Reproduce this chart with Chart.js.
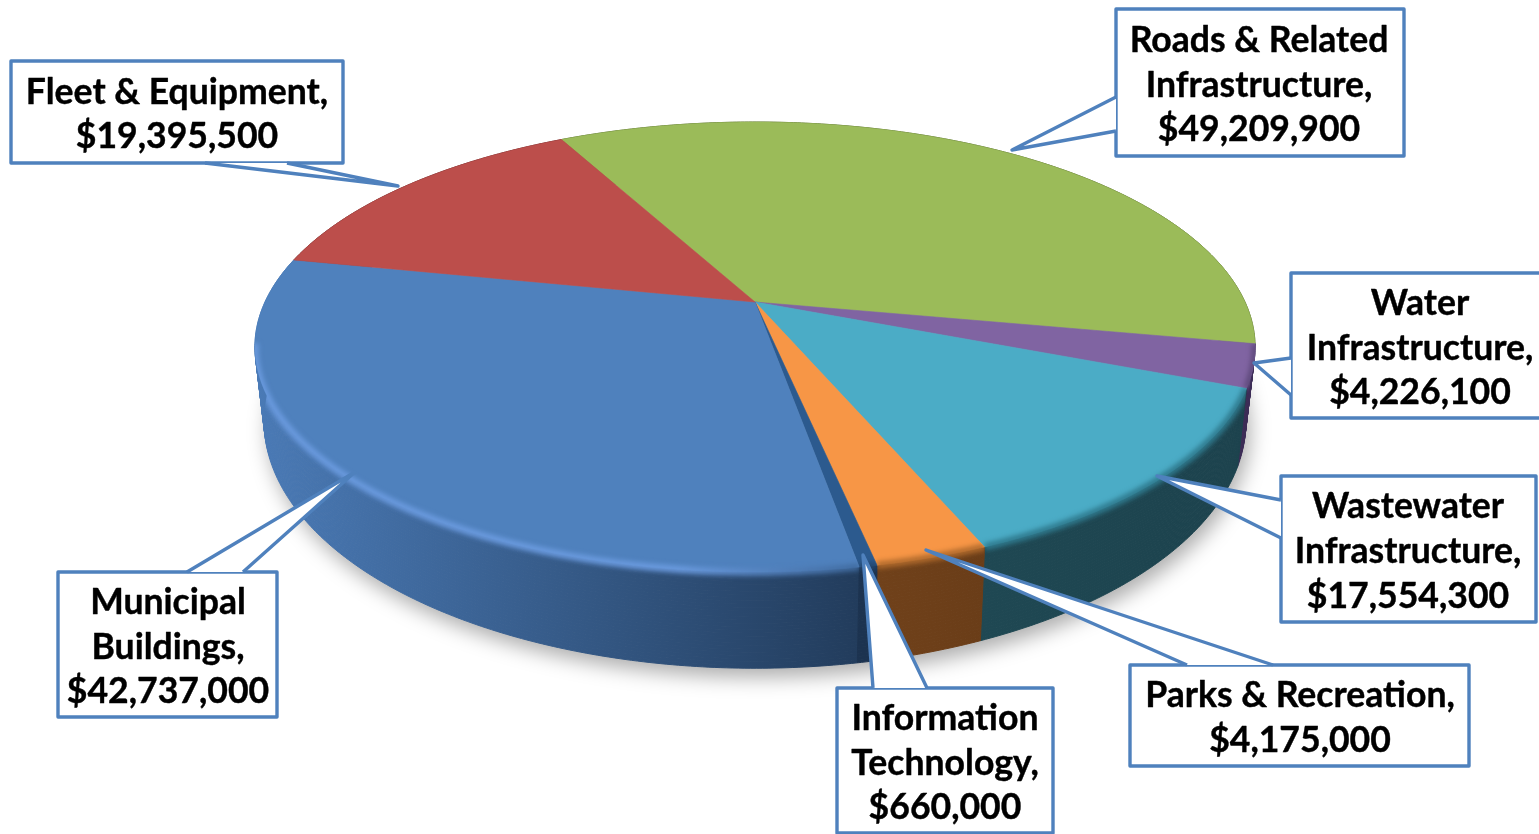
<!DOCTYPE html>
<html lang="en">
<head>
  <meta charset="UTF-8">
  <title>Capital budget by category</title>
  <script src="https://cdn.jsdelivr.net/npm/chart.js"></script>
  <style>
    html, body { margin: 0; padding: 0; background: #fff; overflow: hidden; }
    #pie { display: block; filter: blur(0.6px); }
  </style>
</head>
<body>
  <canvas id="pie" width="1539" height="834"></canvas>

  <script>
    // values, clockwise from the big green slice
    const categories = ['Roads & Related Infrastructure', 'Water Infrastructure', 'Wastewater Infrastructure',
      'Parks & Recreation', 'Information Technology', 'Municipal Buildings', 'Fleet & Equipment'];
    const amounts = [49209900, 4226100, 17554300, 4175000, 660000, 42737000, 19395500];
    const labelLines = [
      ['Roads & Related', 'Infrastructure,'],
      ['Water', 'Infrastructure,'],
      ['Wastewater', 'Infrastructure,'],
      ['Parks & Recreation,'],
      ['Information', 'Technology,'],
      ['Municipal', 'Buildings,'],
      ['Fleet & Equipment,']
    ];

    const topColors = ['#9bbb59', '#8064a2', '#4bacc6', '#f79646', '#2c5a8e', '#4f81bd', '#bc4e4b'];
    const wallLeft = ['#55682f', '#3c2c56', '#1f4853', '#70411a', '#1c3350', '#4a7ab6', '#6b2c2a'];
    const wallRight = ['#55682f', '#3c2c56', '#1c424d', '#6a3d18', '#1c3350', '#223c5c', '#6b2c2a'];
    const rimLeft = ['#7f9a48', '#5f4a7c', '#2f7a8e', '#b06a2c', '#24476f', '#6a9ade', '#bc4e4b'];
    const rimRight = ['#7f9a48', '#5f4a7c', '#2f7a8e', '#b06a2c', '#24476f', '#3f6a9e', '#bc4e4b'];

    // callout boxes: x, y, w, h, text centre, tail tip and the two tail base points
    const callouts = [
      { x: 1116, y: 9, w: 288, h: 147, cx: 1259, tip: [1012, 150], a: [1116, 97], b: [1116, 131] },
      { x: 1291, y: 273, w: 260, h: 145, cx: 1420, tip: [1254, 363], a: [1291, 358], b: [1291, 395] },
      { x: 1281, y: 476, w: 255, h: 146, cx: 1408, tip: [1157, 476], a: [1281, 500], b: [1281, 538] },
      { x: 1130, y: 665, w: 339, h: 101, cx: 1300, tip: [926, 550], a: [1273, 665], b: [1187, 665] },
      { x: 837, y: 688, w: 216, h: 145, cx: 945, tip: [863, 555], a: [873, 688], b: [927, 688] },
      { x: 58, y: 572, w: 219, h: 145, cx: 168, tip: [355, 472], a: [187, 572], b: [243, 572] },
      { x: 11, y: 61, w: 332, h: 102, cx: 177, tip: [398, 186], a: [205, 163], b: [287, 163] }
    ];

    // tilted disc, top face and bottom rim of the wall
    const k = 0.2;
    const topFace = { cx: 755, cy: 302, ax: 490, ay: 216 };
    const bottomFace = { cx: 755, cy: 372, ax: 481, ay: 237 };
    const wallSteps = 30;

    function faceAt(t) {
      return {
        cx: topFace.cx + (bottomFace.cx - topFace.cx) * t,
        cy: topFace.cy + (bottomFace.cy - topFace.cy) * t,
        ax: topFace.ax + (bottomFace.ax - topFace.ax) * t,
        ay: topFace.ay + (bottomFace.ay - topFace.ay) * t
      };
    }

    function project(u, v, face) {
      const w = 1 - k * v;
      return [face.cx + face.ax * u / w, face.cy + face.ay * v / w];
    }

    function arcPoints(start, end, face) {
      const pts = [];
      const n = Math.max(2, Math.ceil((end - start) / 0.01));
      for (let i = 0; i <= n; i++) {
        const t = start + (end - start) * i / n;
        pts.push(project(Math.cos(t), Math.sin(t), face));
      }
      return pts;
    }

    function tracePoints(ctx, pts, moveFirst) {
      pts.forEach((p, i) => {
        if (i === 0 && moveFirst) ctx.moveTo(p[0], p[1]);
        else ctx.lineTo(p[0], p[1]);
      });
    }

    function traceSlice(ctx, arc) {
      ctx.moveTo(topFace.cx, topFace.cy);
      tracePoints(ctx, arcPoints(arc.startAngle, arc.endAngle, topFace), false);
      ctx.closePath();
    }

    function traceWall(ctx, arc, upper, lower) {
      tracePoints(ctx, arcPoints(arc.startAngle, arc.endAngle, upper), true);
      tracePoints(ctx, arcPoints(arc.startAngle, arc.endAngle, lower).reverse(), false);
      ctx.closePath();
    }

    function frontRim(ctx, arc, i, blur, width) {
      const pts = arcPoints(arc.startAngle, arc.endAngle, topFace).filter(p => p[1] > topFace.cy + 40);
      if (pts.length < 2) return;
      const xs = pts.map(p => p[0]);
      const g = ctx.createLinearGradient(Math.min(...xs), 0, Math.max(...xs) + 1, 0);
      g.addColorStop(0, rimLeft[i]);
      g.addColorStop(0.7, rimLeft[i]);
      g.addColorStop(1, rimRight[i]);
      ctx.save();
      // keep the glow inside this slice and its wall
      ctx.beginPath();
      traceSlice(ctx, arc);
      traceWall(ctx, arc, topFace, bottomFace);
      ctx.clip();
      ctx.filter = 'blur(' + blur + 'px)';
      ctx.strokeStyle = g;
      ctx.lineWidth = width;
      ctx.beginPath();
      tracePoints(ctx, pts, true);
      ctx.stroke();
      ctx.restore();
    }

    function drawDisc(ctx, arcs) {
      // soft shadow under the disc
      ctx.save();
      ctx.filter = 'blur(10px)';
      ctx.fillStyle = 'rgba(0,0,0,0.32)';
      ctx.beginPath();
      tracePoints(ctx, arcPoints(0, Math.PI * 2, bottomFace).map(p => [p[0] + 4, p[1] + 9]), true);
      ctx.closePath();
      ctx.fill();
      ctx.restore();

      // side wall, back to front, in thin bands so the silhouette follows the tangent
      const order = arcs.map((arc, i) => i)
        .sort((a, b) => Math.sin((arcs[a].startAngle + arcs[a].endAngle) / 2) - Math.sin((arcs[b].startAngle + arcs[b].endAngle) / 2));
      order.forEach(i => {
        const xs = arcPoints(arcs[i].startAngle, arcs[i].endAngle, topFace).map(p => p[0]);
        const g = ctx.createLinearGradient(Math.min(...xs), 0, Math.max(...xs) + 1, 0);
        g.addColorStop(0, wallLeft[i]);
        g.addColorStop(1, wallRight[i]);
        ctx.fillStyle = g;
        ctx.strokeStyle = g;
        ctx.lineWidth = 1;
        for (let s = wallSteps; s > 0; s--) {
          ctx.beginPath();
          traceWall(ctx, arcs[i], faceAt((s - 1) / wallSteps), faceAt(s / wallSteps));
          ctx.fill();
          ctx.stroke();
        }
      });

      // top face, straight radial edges come out of the same projection
      arcs.forEach((arc, i) => {
        ctx.fillStyle = topColors[i];
        ctx.strokeStyle = topColors[i];
        ctx.lineWidth = 0.6;
        ctx.beginPath();
        traceSlice(ctx, arc);
        ctx.fill();
        ctx.stroke();
      });

      // blurred bevel so the face melts into the wall
      arcs.forEach((arc, i) => frontRim(ctx, arc, i, 2.5, 7));
    }

    function drawCallouts(ctx) {
      callouts.forEach((box, i) => {
        ctx.strokeStyle = '#4f81bd';
        ctx.lineWidth = 3.4;
        ctx.lineJoin = 'round';
        ctx.fillStyle = '#fff';
        ctx.beginPath();
        ctx.rect(box.x, box.y, box.w, box.h);
        ctx.fill();
        ctx.stroke();

        ctx.beginPath();
        ctx.moveTo(box.a[0], box.a[1]);
        ctx.lineTo(box.tip[0], box.tip[1]);
        ctx.lineTo(box.b[0], box.b[1]);
        ctx.closePath();
        ctx.fill();
        ctx.beginPath();
        ctx.moveTo(box.a[0], box.a[1]);
        ctx.lineTo(box.tip[0], box.tip[1]);
        ctx.lineTo(box.b[0], box.b[1]);
        ctx.stroke();

        const lines = labelLines[i].concat('$' + amounts[i].toLocaleString('en-US'));
        ctx.fillStyle = '#000';
        ctx.strokeStyle = '#000';
        ctx.lineWidth = 0.4;
        ctx.font = 'bold 35.6px Lato';
        ctx.textAlign = 'center';
        ctx.textBaseline = 'alphabetic';
        const first = box.y + box.h / 2 - (lines.length - 1) * 22.3 + 14;
        lines.forEach((line, n) => {
          ctx.fillText(line, box.cx, first + n * 44.6);
          ctx.strokeText(line, box.cx, first + n * 44.6);
        });
      });
    }

    const tiltedPie = {
      id: 'tiltedPie',
      beforeDatasetsDraw(chart) {
        drawDisc(chart.ctx, chart.getDatasetMeta(0).data);
        drawCallouts(chart.ctx);
        return false; // flat arcs are replaced by the tilted ones
      }
    };

    new Chart(document.getElementById('pie'), {
      type: 'pie',
      data: {
        labels: categories,
        datasets: [{ data: amounts, backgroundColor: topColors, borderWidth: 0 }]
      },
      options: {
        responsive: false,
        animation: false,
        rotation: -27.7,
        plugins: { legend: { display: false }, tooltip: { enabled: false } }
      },
      plugins: [tiltedPie]
    });
  </script>
</body>
</html>
